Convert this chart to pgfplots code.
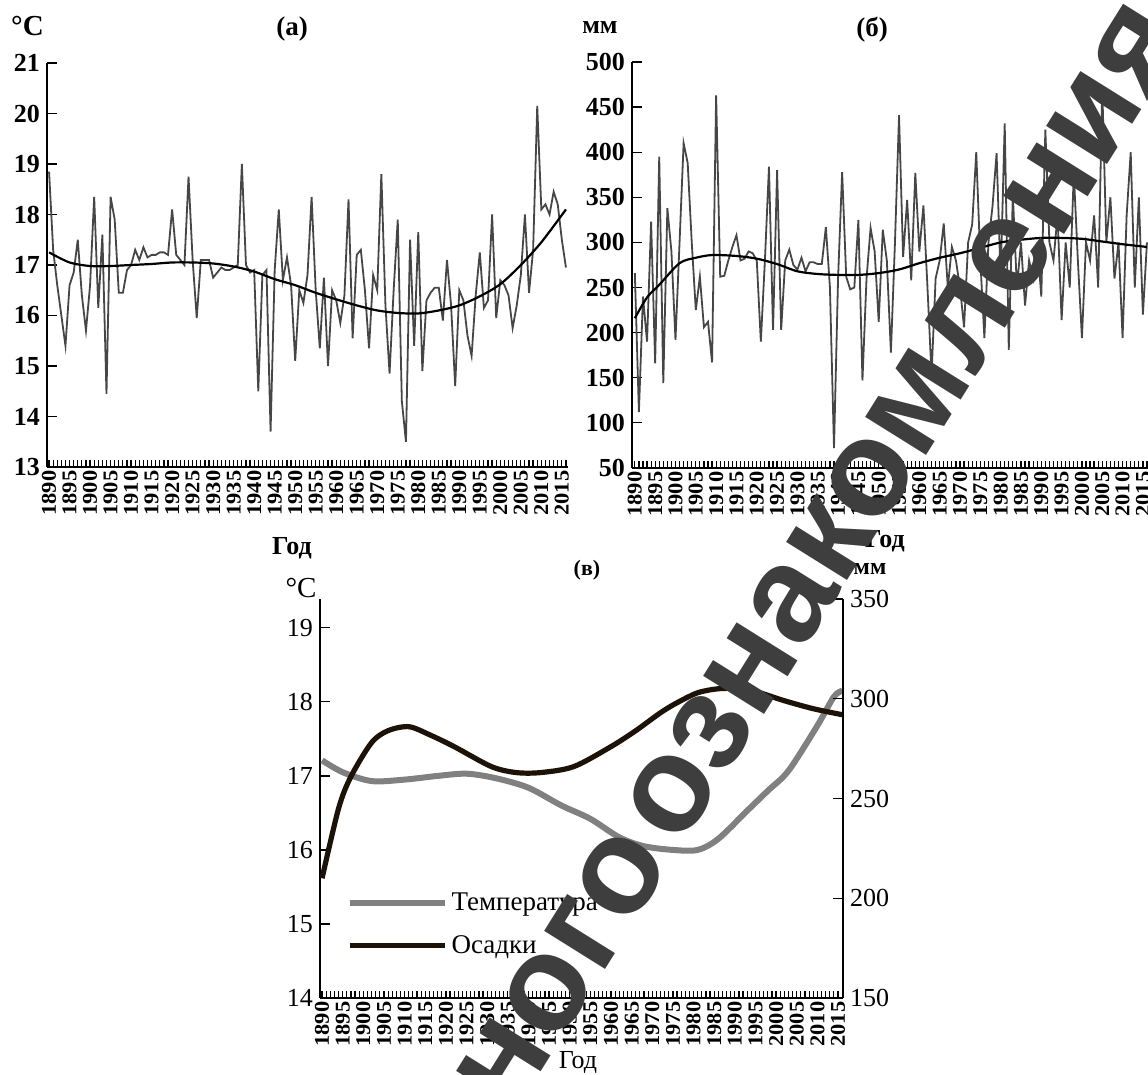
\documentclass[border=0pt]{standalone}
\usepackage{fontspec}
\setmainfont{Liberation Serif}
\newfontfamily\wmfont{Liberation Sans}
\usepackage{pgfplots}
\usepackage{pgfplotstable}
\pgfplotsset{compat=1.18}

% annual mean temperature, deg C
\pgfplotstableread{
year t
1890 18.85
1891 17.3
1892 16.6
1893 16.0
1894 15.4
1895 16.6
1896 16.85
1897 17.5
1898 16.4
1899 15.7
1900 16.6
1901 18.35
1902 16.15
1903 17.6
1904 14.45
1905 18.35
1906 17.9
1907 16.45
1908 16.45
1909 16.9
1910 17.0
1911 17.3
1912 17.1
1913 17.35
1914 17.15
1915 17.2
1916 17.2
1917 17.25
1918 17.25
1919 17.2
1920 18.1
1921 17.2
1922 17.1
1923 17.0
1924 18.75
1925 17.1
1926 15.95
1927 17.1
1928 17.1
1929 17.1
1930 16.75
1931 16.85
1932 16.95
1933 16.9
1934 16.9
1935 16.95
1936 17.0
1937 19.0
1938 17.0
1939 16.85
1940 16.9
1941 14.5
1942 16.8
1943 16.9
1944 13.7
1945 16.9
1946 18.1
1947 16.7
1948 17.15
1949 16.6
1950 15.1
1951 16.5
1952 16.25
1953 16.8
1954 18.35
1955 16.5
1956 15.35
1957 16.75
1958 15.0
1959 16.5
1960 16.3
1961 15.85
1962 16.4
1963 18.3
1964 15.55
1965 17.2
1966 17.3
1967 16.5
1968 15.35
1969 16.8
1970 16.5
1971 18.8
1972 16.2
1973 14.85
1974 16.5
1975 17.9
1976 14.3
1977 13.5
1978 17.5
1979 15.4
1980 17.65
1981 14.9
1982 16.3
1983 16.45
1984 16.55
1985 16.55
1986 15.9
1987 17.1
1988 16.2
1989 14.6
1990 16.5
1991 16.3
1992 15.6
1993 15.2
1994 16.4
1995 17.25
1996 16.15
1997 16.3
1998 18.0
1999 15.95
2000 16.7
2001 16.6
2002 16.4
2003 15.75
2004 16.2
2005 16.8
2006 18.0
2007 16.45
2008 17.3
2009 20.15
2010 18.1
2011 18.2
2012 18.0
2013 18.45
2014 18.2
2015 17.5
2016 16.95
}\tempdata

% annual precipitation, mm
\pgfplotstableread{
year p
1890 266
1891 112
1892 240
1893 190
1894 323
1895 166
1896 395
1897 144
1898 338
1899 290
1900 192
1901 300
1902 410
1903 388
1904 300
1905 225
1906 262
1907 206
1908 212
1909 167
1910 463
1911 262
1912 263
1913 280
1914 295
1915 308
1916 280
1917 282
1918 290
1919 288
1920 280
1921 190
1922 280
1923 384
1924 203
1925 380
1926 203
1927 280
1928 292
1929 275
1930 270
1931 283
1932 268
1933 278
1934 278
1935 276
1936 276
1937 317
1938 250
1939 72
1940 260
1941 378
1942 262
1943 248
1944 250
1945 325
1946 147
1947 260
1948 316
1949 290
1950 212
1951 314
1952 280
1953 178
1954 300
1955 441
1956 284
1957 347
1958 258
1959 377
1960 290
1961 341
1962 250
1963 153
1964 260
1965 280
1966 321
1967 250
1968 295
1969 280
1970 250
1971 206
1972 300
1973 320
1974 400
1975 280
1976 194
1977 300
1978 340
1979 399
1980 260
1981 432
1982 181
1983 353
1984 250
1985 300
1986 230
1987 280
1988 260
1989 300
1990 240
1991 425
1992 300
1993 280
1994 330
1995 214
1996 300
1997 250
1998 377
1999 280
2000 194
2001 300
2002 280
2003 330
2004 250
2005 472
2006 300
2007 350
2008 260
2009 300
2010 194
2011 330
2012 400
2013 250
2014 350
2015 220
2016 300
}\precdata

% smoothed trends
\pgfplotstableread{
year t
1890 17.25
1895 17.05
1900 16.98
1905 16.98
1910 17.0
1915 17.02
1920 17.05
1925 17.05
1930 17.03
1935 16.97
1940 16.87
1945 16.72
1950 16.6
1955 16.45
1960 16.32
1965 16.2
1970 16.1
1975 16.05
1980 16.04
1985 16.1
1990 16.2
1995 16.38
2000 16.62
2005 17.0
2010 17.45
2016 18.1
}\temptrend

\pgfplotstableread{
year p
1890 216
1893 239
1896 253
1901 277
1905 283
1909 286
1915 285
1920 282
1925 276
1930 268
1935 265
1940 264
1945 264
1950 266
1955 270
1960 277
1965 283
1970 288
1975 294
1980 300
1985 303
1990 305
1995 305
2000 304
2005 301
2010 298
2016 295
}\prectrend

\pgfplotstableread{
year t
1890 17.21
1895 17.05
1902 16.93
1910 16.95
1918 17.0
1925 17.03
1932 16.97
1940 16.84
1948 16.6
1955 16.42
1962 16.17
1968 16.05
1975 16.0
1981 16.0
1986 16.15
1993 16.53
1998 16.8
2003 17.07
2010 17.68
2014 18.07
2016 18.15
}\tempsmooth

\pgfplotstableread{
year p
1890 210
1894 245
1897 261
1902 278
1906 284
1911 286
1916 282
1922 276
1931 266
1937 263
1943 263
1951 266
1960 276
1966 284
1972 293
1976 298
1981 303
1986 305
1991 305
1996 303
2002 299
2009 295
2016 292
}\precsmooth

\definecolor{serie}{RGB}{70,70,70}
\definecolor{tgrey}{RGB}{128,128,128}
\definecolor{pblack}{RGB}{28,18,8}
\definecolor{wm}{RGB}{62,62,62}

\pgfplotsset{
  panel/.style={
    scale only axis,
    axis x line*=bottom,
    axis y line*=left,
    axis line style={line width=0.8pt},
    tick align=inside,
    xtick={1890,1895,...,2015},
    minor xtick={1890,...,2016},
    major tick length=3.5pt,
    minor tick length=3.5pt,
    every tick/.style={black,line width=0.6pt},
    ytick style={/pgfplots/major tick length=5pt},
    xticklabel style={rotate=90,xscale=1.07,anchor=east,inner sep=1.5pt,
      font=\bfseries\fontsize{10.5}{10.5}\selectfont},
    /pgf/number format/1000 sep={},
    /pgf/number format/assume math mode=true,
    clip=false,
  },
}

\begin{document}
\begin{tikzpicture}

% (a) temperature
\begin{axis}[panel,
  at={(23.5pt,304pt)}, anchor=south west,
  width=260.5pt, height=202pt,
  xmin=1889.5, xmax=2016.5, ymin=13, ymax=21,
  ytick={13,...,21},
  yticklabel style={font=\bfseries\fontsize{13}{13}\selectfont},
]
\addplot[serie, line width=0.9pt] table[x=year,y=t] {\tempdata};
\addplot[black, line width=1.1pt, smooth] table[x=year,y=t] {\temptrend};
\end{axis}

% (b) precipitation
\begin{axis}[panel,
  at={(316pt,303.5pt)}, anchor=south west,
  width=258.5pt, height=203pt,
  xmin=1889.3, xmax=2016.5, ymin=50, ymax=500,
  ytick={50,100,...,500},
  yticklabel style={font=\bfseries\fontsize{13}{13}\selectfont},
]
\addplot[serie, line width=0.9pt] table[x=year,y=p] {\precdata};
\addplot[black, line width=1.1pt, smooth] table[x=year,y=p] {\prectrend};
\end{axis}

% (v) smoothed curves, two y axes
\begin{axis}[panel,
  at={(160pt,38.5pt)}, anchor=south west,
  width=261.5pt, height=199.5pt,
  xmin=1889.5, xmax=2016.2, ymin=14, ymax=19.39,
  ytick={14,...,19},
  yticklabel style={font=\fontsize{13}{13}\selectfont},
  legend style={at={(0.05,0.275)}, anchor=north west, draw=none, fill=none,
    font=\fontsize{13.5}{13.5}\selectfont, row sep=7pt, inner sep=0pt},
  legend cell align=left,
  legend image code/.code={\draw[#1] (0pt,0pt) -- (47.5pt,0pt);},
]
\addplot[tgrey, line width=3pt, smooth] table[x=year,y=t] {\tempsmooth};
\addlegendentry{Температура}
\addlegendimage{pblack, line width=2.6pt}
\addlegendentry{Осадки}
\end{axis}
\begin{axis}[
  scale only axis,
  at={(160pt,38.5pt)}, anchor=south west,
  width=261.5pt, height=199.5pt,
  xmin=1889.5, xmax=2016.2, ymin=150, ymax=350,
  axis x line=none,
  axis y line*=right,
  axis line style={line width=0.8pt},
  tick align=inside,
  ytick={150,200,...,350},
  major tick length=5pt,
  every tick/.style={black,line width=0.6pt},
  yticklabel style={font=\fontsize{13}{13}\selectfont},
  /pgf/number format/assume math mode=true,
  clip=false,
]
\addplot[pblack, line width=2.6pt, smooth] table[x=year,y=p] {\precsmooth};
\end{axis}

% titles and units
\node[font=\bfseries\fontsize{14.5}{14.5}\selectfont] at (13.75pt,524.25pt) {°C};
\node[font=\bfseries\fontsize{13.5}{13.5}\selectfont] at (146pt,523pt) {(а)};
\node[font=\bfseries\fontsize{13}{13}\selectfont] at (146pt,263.5pt) {Год};
\node[font=\bfseries\fontsize{13}{13}\selectfont] at (300pt,523.5pt) {мм};
\node[font=\bfseries\fontsize{13.5}{13.5}\selectfont] at (436pt,522.5pt) {(б)};
\node[font=\bfseries\fontsize{13}{13}\selectfont] at (442.5pt,267pt) {Год};
\node[font=\bfseries\fontsize{11}{11}\selectfont] at (293.5pt,252.5pt) {(в)};
\node[font=\fontsize{14.5}{14.5}\selectfont] at (150.5pt,243.5pt) {°C};
\node[font=\bfseries\fontsize{12}{12}\selectfont] at (435pt,253pt) {мм};
\node[font=\fontsize{13}{13}\selectfont] at (289pt,6pt) {Год};

% overlay text of the source page
\node[wm, rotate=58, font=\wmfont\bfseries\fontsize{68}{68}\selectfont]
  at (410.2pt,259.1pt) {ного\hspace{-12pt} ознакомления};

\pgfresetboundingbox
\path[use as bounding box] (0,0) rectangle (574pt,537.5pt);
\end{tikzpicture}
\end{document}
